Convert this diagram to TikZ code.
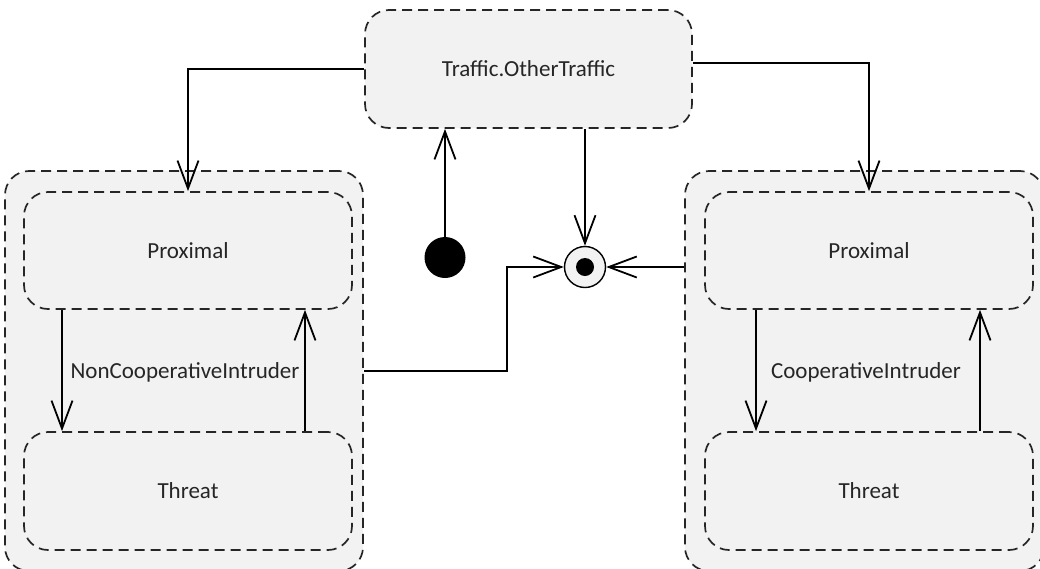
\documentclass[tikz,border=0pt]{standalone}
\usepackage{fontspec}
\setmainfont{Carlito}
\usetikzlibrary{arrows.meta,calc}
\definecolor{boxfill}{HTML}{F2F2F2}
\definecolor{txt}{HTML}{262626}
\tikzset{
  statebox/.style={draw=black!85, fill=boxfill, line width=1.7pt, dash pattern=on 10pt off 6pt, rounded corners=24pt, inner sep=0pt},
  lbl/.style={text=txt, font=\fontsize{23}{27}\selectfont},
  conn/.style={line width=1.8pt, -{Straight Barb[length=28pt, width=21pt, line width=1.8pt]}},
}
\begin{document}
\begin{tikzpicture}[x=1pt,y=-1pt]
\useasboundingbox (0,0) rectangle (1040,568);
\begin{scope}
\clip (0,0) rectangle (1040,568);
% outer composite boxes
\node[statebox, minimum width=358pt, minimum height=400pt] (louter) at (184,371) {};
\node[statebox, minimum width=359pt, minimum height=400pt] (router) at (864.5,371) {};
% top box
\node[statebox, minimum width=327pt, minimum height=118pt, lbl] (traffic) at (528.5,69) {Traffic.OtherTraffic};
% inner states
\node[statebox, minimum width=328pt, minimum height=117pt, lbl] (lprox) at (188,250.5) {Proximal};
\node[statebox, minimum width=328pt, minimum height=118pt, lbl] (lthreat) at (188,491) {Threat};
\node[statebox, minimum width=328pt, minimum height=117pt, lbl] (rprox) at (869,250.5) {Proximal};
\node[statebox, minimum width=328pt, minimum height=118pt, lbl] (rthreat) at (869,491) {Threat};
% labels
\node[lbl] (lname) at (185,372) {NonCooperativeIntruder};
\node[lbl] (rname) at (866,372) {CooperativeIntruder};
% pseudo states
\node[circle, fill=black, minimum size=41pt, inner sep=0pt] (init) at (445,257.5) {};
\node[circle, draw=black, fill=boxfill, line width=1.4pt, minimum size=41pt, inner sep=0pt] (final) at (585,267) {};
\node[circle, fill=black, minimum size=18pt, inner sep=0pt] (finaldot) at (final) {};
% connectors
\draw[conn] (traffic.west) -| (lprox.north);
\draw[conn] ($(traffic.east)+(0,-6)$) -| (rprox.north);
\draw[conn] (init) -- (init |- traffic.south);
\draw[conn] (traffic.south -| final) -- (final.north);
\draw[conn] (louter.east) -- ++(143,0) |- (final.west);
\draw[conn] (final -| router.west) -- (final.east);
\draw[conn] ([xshift=-126pt]lprox.south) -- ([xshift=-126pt]lthreat.north);
\draw[conn] ([xshift=117pt]lthreat.north) -- ([xshift=117pt]lprox.south);
\draw[conn] ([xshift=-113pt]rprox.south) -- ([xshift=-113pt]rthreat.north);
\draw[conn] ([xshift=111pt]rthreat.north) -- ([xshift=111pt]rprox.south);
\end{scope}
\end{tikzpicture}
\end{document}
